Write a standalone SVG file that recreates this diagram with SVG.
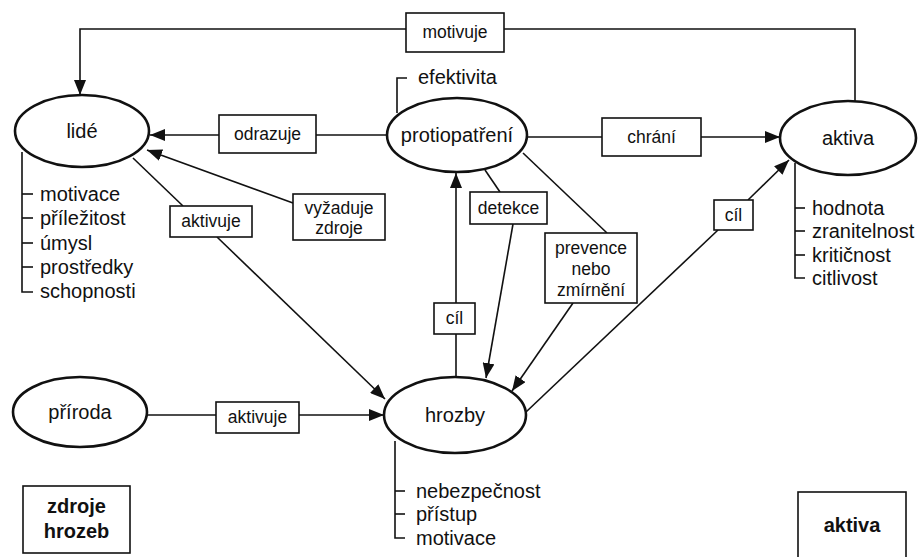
<svg xmlns="http://www.w3.org/2000/svg" width="918" height="557" viewBox="0 0 918 557">
<defs>
<marker id="ah" markerUnits="userSpaceOnUse" markerWidth="16" markerHeight="12" refX="15" refY="6" orient="auto">
<path d="M0,0 L15,6 L0,12 z" fill="#111"/>
</marker>
<style>
.ell{fill:#fff;stroke:#111;stroke-width:2.6}
.box{fill:#fff;stroke:#111;stroke-width:1.6}
.ln{fill:none;stroke:#111;stroke-width:1.6}
.arr{fill:none;stroke:#111;stroke-width:1.6;marker-end:url(#ah)}
.nt{font-family:"Liberation Sans",Arial,sans-serif;font-size:20px;fill:#111;text-anchor:middle}
.lt{font-family:"Liberation Sans",Arial,sans-serif;font-size:17.5px;fill:#111;text-anchor:middle}
.at{font-family:"Liberation Sans",Arial,sans-serif;font-size:20px;fill:#111}
.bt{font-family:"Liberation Sans",Arial,sans-serif;font-size:20px;font-weight:bold;fill:#111;text-anchor:middle}
</style>
</defs>
<rect width="918" height="557" fill="#fff"/>

<g id="connectors">
<!-- motivuje: aktiva -> lidé -->
<polyline class="ln" points="855,101 855,29 504,29"/>
<polyline class="arr" points="406,29 80,29 80,95"/>
<!-- odrazuje -->
<line class="ln" x1="387" y1="135" x2="316" y2="135"/>
<line class="arr" x1="219" y1="135" x2="150" y2="135"/>
<!-- vyžaduje zdroje -->
<line class="arr" x1="293" y1="203" x2="147" y2="150"/>
<!-- aktivuje (lidé -> hrozby) -->
<line class="ln" x1="133" y1="158" x2="183" y2="206"/>
<line class="arr" x1="217" y1="237" x2="385" y2="399"/>
<!-- aktivuje (příroda -> hrozby) -->
<line class="ln" x1="148" y1="415" x2="216" y2="415"/>
<line class="arr" x1="299" y1="415" x2="384" y2="415"/>
<!-- chrání -->
<line class="ln" x1="528" y1="137" x2="602" y2="137"/>
<line class="arr" x1="701" y1="137" x2="780" y2="137"/>
<!-- cíl (hrozby -> protiopatření) -->
<line class="ln" x1="456" y1="378" x2="456" y2="334"/>
<line class="arr" x1="456" y1="303" x2="456" y2="173"/>
<!-- detekce -->
<line class="ln" x1="485" y1="170" x2="500" y2="192"/>
<line class="arr" x1="513" y1="224" x2="486" y2="378"/>
<!-- prevence nebo zmírnění -->
<line class="ln" x1="523" y1="153" x2="607" y2="233"/>
<line class="arr" x1="573" y1="303" x2="512" y2="391"/>
<!-- cíl (hrozby -> aktiva) -->
<line class="ln" x1="526" y1="412" x2="718" y2="230"/>
<line class="arr" x1="748" y1="200" x2="789" y2="160"/>
</g>

<g id="lide">
<ellipse class="ell" cx="82" cy="131" rx="67" ry="36"/>
<text class="nt" x="82" y="138">lidé</text>
<polyline class="ln" points="22,152 22,292 33,292"/>
<line class="ln" x1="22" y1="194" x2="33" y2="194"/>
<line class="ln" x1="22" y1="218" x2="33" y2="218"/>
<line class="ln" x1="22" y1="243" x2="33" y2="243"/>
<line class="ln" x1="22" y1="267" x2="33" y2="267"/>
<text class="at" x="40" y="201">motivace</text>
<text class="at" x="40" y="225">příležitost</text>
<text class="at" x="40" y="250">úmysl</text>
<text class="at" x="40" y="274">prostředky</text>
<text class="at" x="40" y="298">schopnosti</text>
</g>

<g id="protiopatreni">
<polyline class="ln" points="407,78 397,78 397,113"/>
<text class="at" x="418" y="84">efektivita</text>
<ellipse class="ell" cx="457" cy="135" rx="70" ry="37"/>
<text class="nt" x="457" y="142">protiopatření</text>
</g>

<g id="aktiva">
<ellipse class="ell" cx="848" cy="138" rx="68" ry="37"/>
<text class="nt" x="848" y="145">aktiva</text>
<polyline class="ln" points="795,163 795,278 805,278"/>
<line class="ln" x1="795" y1="208" x2="805" y2="208"/>
<line class="ln" x1="795" y1="231" x2="805" y2="231"/>
<line class="ln" x1="795" y1="255" x2="805" y2="255"/>
<text class="at" x="812" y="215">hodnota</text>
<text class="at" x="812" y="238">zranitelnost</text>
<text class="at" x="812" y="262">kritičnost</text>
<text class="at" x="812" y="285">citlivost</text>
</g>

<g id="priroda">
<ellipse class="ell" cx="80" cy="412" rx="67" ry="35"/>
<text class="nt" x="80" y="419">příroda</text>
</g>

<g id="hrozby">
<ellipse class="ell" cx="455" cy="415" rx="71" ry="38"/>
<text class="nt" x="455" y="422">hrozby</text>
<polyline class="ln" points="395,441 395,538 405,538"/>
<line class="ln" x1="395" y1="491" x2="405" y2="491"/>
<line class="ln" x1="395" y1="514" x2="405" y2="514"/>
<text class="at" x="416" y="498">nebezpečnost</text>
<text class="at" x="416" y="521">přístup</text>
<text class="at" x="416" y="545">motivace</text>
</g>

<g id="lbl-motivuje">
<rect class="box" x="406" y="13" width="98" height="39"/>
<text class="lt" x="455" y="38">motivuje</text>
</g>
<g id="lbl-odrazuje">
<rect class="box" x="219" y="115" width="97" height="38"/>
<text class="lt" x="267.5" y="140">odrazuje</text>
</g>
<g id="lbl-vyzaduje">
<rect class="box" x="293" y="194" width="92" height="46"/>
<text class="lt" x="339" y="214">vyžaduje</text>
<text class="lt" x="339" y="234">zdroje</text>
</g>
<g id="lbl-aktivuje1">
<rect class="box" x="170" y="206" width="82" height="31"/>
<text class="lt" x="211" y="227">aktivuje</text>
</g>
<g id="lbl-aktivuje2">
<rect class="box" x="216" y="402" width="83" height="31"/>
<text class="lt" x="257.5" y="423">aktivuje</text>
</g>
<g id="lbl-chrani">
<rect class="box" x="602" y="118" width="99" height="38"/>
<text class="lt" x="651.5" y="143">chrání</text>
</g>
<g id="lbl-detekce">
<rect class="box" x="470" y="192" width="77" height="32"/>
<text class="lt" x="508.5" y="214">detekce</text>
</g>
<g id="lbl-prevence">
<rect class="box" x="545" y="233" width="92" height="70"/>
<text class="lt" x="591" y="254">prevence</text>
<text class="lt" x="591" y="275">nebo</text>
<text class="lt" x="591" y="296">zmírnění</text>
</g>
<g id="lbl-cil1">
<rect class="box" x="434" y="303" width="41" height="31"/>
<text class="lt" x="454.5" y="324">cíl</text>
</g>
<g id="lbl-cil2">
<rect class="box" x="714" y="200" width="39" height="30"/>
<text class="lt" x="733.5" y="221">cíl</text>
</g>

<g id="legend-zdroje">
<rect class="box" x="23" y="486" width="107" height="67"/>
<text class="bt" x="76.5" y="513">zdroje</text>
<text class="bt" x="76.5" y="538">hrozeb</text>
</g>
<g id="legend-aktiva">
<rect class="box" x="798" y="492" width="108" height="70"/>
<text class="bt" x="852" y="532">aktiva</text>
</g>
</svg>
